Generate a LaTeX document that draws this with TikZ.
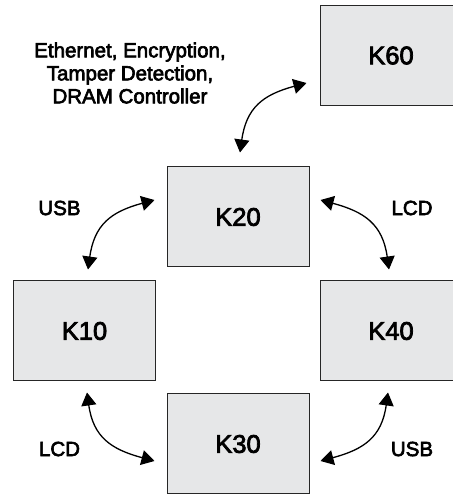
\documentclass[tikz,border=0pt]{standalone}
\usepackage{fontspec}
\setmainfont{Liberation Sans}
\newfontfamily\labfont{Liberation Sans}[FakeBold=3]
\usetikzlibrary{arrows.meta,calc}
\definecolor{boxfill}{RGB}{230,231,232}
\begin{document}
\begin{tikzpicture}[x=1pt,y=1pt,
  box/.style={draw=black!85, line width=1pt, fill=boxfill, minimum width=142pt, minimum height=100pt, inner sep=0pt, font=\labfont\fontsize{25.5}{28}\selectfont},
  lbl/.style={font=\labfont\fontsize{20.5}{23}\selectfont, inner sep=0pt},
  arr/.style={line width=1.3pt, looseness=1.2, {Triangle[length=13pt,width=15pt]}-{Triangle[length=13pt,width=15pt]}}]
\useasboundingbox (0,0) rectangle (453,496);
\clip (0,0) rectangle (453,496);
\node[box] (k60) at (391,440.5) {K60};
\node[box] (k20) at (238,279) {K20};
\node[box] (k10) at (84.5,165) {K10};
\node[box] (k40) at (391,165) {K40};
\node[box] (k30) at (238,52) {K30};

\coordinate (a1) at ($(k60.west)+(-13,-27.5)$);
\coordinate (a2) at ($(k20.north)+(2,14)$);
\coordinate (u1) at ($(k20.west)+(-12,17)$);
\coordinate (u2) at ($(k10.north)+(3.5,11)$);
\coordinate (l1) at ($(k20.east)+(11,17)$);
\coordinate (l2) at ($(k40.north)+(-2,11)$);
\coordinate (b1) at ($(k10.south)+(2.5,-11)$);
\coordinate (b2) at ($(k30.west)+(-12,-17)$);
\coordinate (c1) at ($(k40.south)+(-3,-11)$);
\coordinate (c2) at ($(k30.east)+(11,-17)$);

\draw[arr] (a1) to[out=195,in=82] (a2);
\draw[arr] (u1) to[out=195,in=82] (u2);
\draw[arr] (l1) to[out=-15,in=98] (l2);
\draw[arr] (b1) to[out=-82,in=165] (b2);
\draw[arr] (c1) to[out=-98,in=15] (c2);

\node[lbl, align=center] (txt) at (130,423) {Ethernet, Encryption,\\Tamper Detection,\\DRAM Controller};
\node[lbl] (usb1) at (59.5,288) {USB};
\node[lbl] (lcd1) at (412,288) {LCD};
\node[lbl] (lcd2) at (59.5,47) {LCD};
\node[lbl] (usb2) at (412,47) {USB};
\end{tikzpicture}
\end{document}
